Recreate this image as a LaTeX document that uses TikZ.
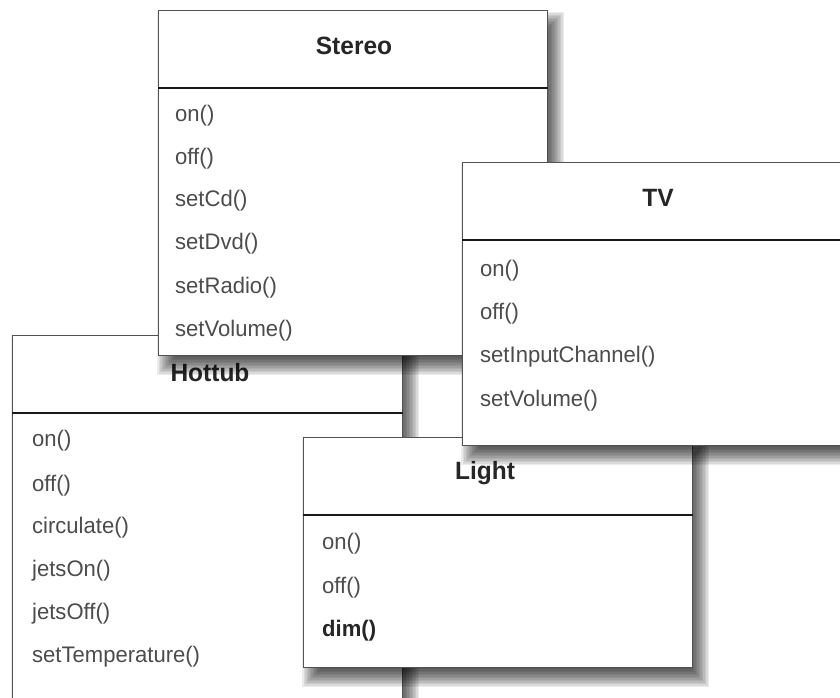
\documentclass[tikz,border=0pt]{standalone}
\usepackage{fontspec}
\newfontfamily\umlfont[FakeStretch=0.98]{Liberation Sans}
\newcommand\umlshadow[4]{% x1,y1,x2,y2 of the box
  \foreach \e in {-9,-7.5,...,9.1} {
    \fill[black, opacity=0.075] ({#1+8-\e},{#2+11-\e}) rectangle ({#3+8+\e},{#4+11+\e});
  }}
\begin{document}
\begin{tikzpicture}[x=1pt,y=-1pt,
  classbox/.style={draw=black!68, line width=1.2pt, fill=white, anchor=north west, inner sep=0pt},
  titletext/.style={font=\umlfont\bfseries\fontsize{25}{30}\selectfont, text=black!85, inner sep=0pt},
  itemtext/.style={font=\umlfont\fontsize{22.5}{27}\selectfont, text=black!70, anchor=west, inner sep=0pt},
  itembold/.style={itemtext, font=\umlfont\bfseries\fontsize{22.5}{27}\selectfont, text=black!85},
  divider/.style={line width=2pt, black!90}]
\useasboundingbox (0,0) rectangle (840,698);
\fill[white] (0,0) rectangle (840,698);
\clip (0,0) rectangle (840,698);

% Hottub
\umlshadow{12}{335}{402}{735}
\node[classbox, minimum width=390pt, minimum height=400pt] (hottub) at (12,335) {};
\draw[divider] ([yshift=-78pt]hottub.north west) -- ([yshift=-78pt]hottub.north east);
\node[titletext] (hottubT) at (210,373) {Hottub};
\node[itemtext] (h1) at (32,441) {on()};
\node[itemtext] (h2) at (32,486) {off()};
\node[itemtext] (h3) at (32,528) {circulate()};
\node[itemtext] (h4) at (32,571) {jetsOn()};
\node[itemtext] (h5) at (32,614) {jetsOff()};
\node[itemtext] (h6) at (32,657) {setTemperature()};

% Stereo
\umlshadow{158}{10}{547}{355}
\node[classbox, minimum width=389pt, minimum height=345pt] (stereo) at (158,10) {};
\draw[divider] ([yshift=-78pt]stereo.north west) -- ([yshift=-78pt]stereo.north east);
\node[titletext] (stereoT) at (354,46) {Stereo};
\node[itemtext] (s1) at (175,116) {on()};
\node[itemtext] (s2) at (175,159) {off()};
\node[itemtext] (s3) at (175,201) {setCd()};
\node[itemtext] (s4) at (175,244) {setDvd()};
\node[itemtext] (s5) at (175,288) {setRadio()};
\node[itemtext] (s6) at (175,331) {setVolume()};

% Light
\umlshadow{303}{437}{692}{667}
\node[classbox, minimum width=389pt, minimum height=230pt] (light) at (303,437) {};
\draw[divider] ([yshift=-78pt]light.north west) -- ([yshift=-78pt]light.north east);
\node[titletext] (lightT) at (485,473) {Light};
\node[itemtext] (l1) at (322,544) {on()};
\node[itemtext] (l2) at (322,588) {off()};
\node[itembold] (l3) at (322,631) {dim()};

% TV
\umlshadow{462}{162}{854}{445}
\node[classbox, minimum width=392pt, minimum height=283pt] (tv) at (462,162) {};
\draw[divider] ([yshift=-78pt]tv.north west) -- ([yshift=-78pt]tv.north east);
\node[titletext] (tvT) at (658,198) {TV};
\node[itemtext] (t1) at (480,271) {on()};
\node[itemtext] (t2) at (480,314) {off()};
\node[itemtext] (t3) at (480,357) {setInputChannel()};
\node[itemtext] (t4) at (480,401) {setVolume()};
\end{tikzpicture}
\end{document}
